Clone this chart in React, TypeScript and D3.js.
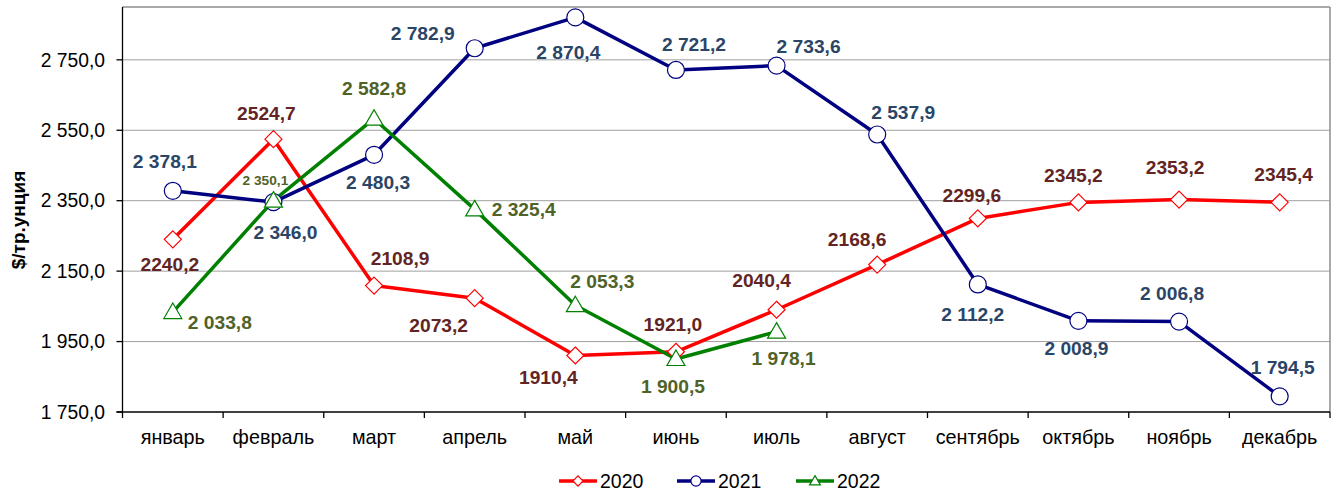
import React from 'react';
import * as d3 from 'd3';

const months = ['январь', 'февраль', 'март', 'апрель', 'май', 'июнь', 'июль', 'август', 'сентябрь', 'октябрь', 'ноябрь', 'декабрь'];
const values2020 = [2240.2, 2524.7, 2108.9, 2073.2, 1910.4, 1921.0, 2040.4, 2168.6, 2299.6, 2345.2, 2353.2, 2345.4];
const values2021 = [2378.1, 2346.0, 2480.3, 2782.9, 2870.4, 2721.2, 2733.6, 2537.9, 2112.2, 2008.9, 2006.8, 1794.5];
const values2022 = [2033.8, 2350.1, 2582.8, 2325.4, 2053.3, 1900.5, 1978.1];
const yTicks = [1750, 1950, 2150, 2350, 2550, 2750];

// label offsets from the point (dx, dy) – chart-specific placement
const off2020: [number, number][] = [[-3, 25], [-7, -26], [26, -27], [-36, 27], [-27, 22], [-3, -27], [-15, -29], [-20, -25], [-6, -23], [-5, -27], [-4, -32], [4, -28]];
const off2021: [number, number][] = [[-8, -30], [12, 30], [4, 27], [-52, -15], [-7, 35], [18, -26], [32, -19], [26, -22], [-5, 30], [-2, 27], [-7, -28], [3, -29]];
const off2022: [number, number][] = [[47, 10], [-8, -20], [0, -30], [49, 0], [27, -24], [-3, 27], [7, 27]];

const margin = { top: 7, right: 13, bottom: 81, left: 122.5 };
const W = 1343;
const H = 493;

const fmtRu = (v: number) => {
  const [i, f] = v.toFixed(1).split('.');
  return i.replace(/\B(?=(\d{3})+(?!\d))/g, ' ') + ',' + f;
};
const fmtPlain = (v: number) => v.toFixed(1).replace('.', ',');

const x = d3.scaleBand<string>().domain(months).range([margin.left, W - margin.right]);
const y = d3.scaleLinear().domain([1750, 2900]).range([H - margin.bottom, margin.top]);
const cx = (i: number) => (x(months[i]) || 0) + x.bandwidth() / 2;

const line = d3.line<number>().x((_, i) => cx(i)).y(d => y(d));

const font = 'Arial, "Liberation Sans", sans-serif';

type Kind = 'diamond' | 'circle' | 'triangle';
const Marker = ({ kind, px, py, color, s = 1 }: { kind: Kind; px: number; py: number; color: string; s?: number }) => {
  if (kind === 'circle') return <circle cx={px} cy={py} r={8.5 * s} fill="#fff" stroke={color} strokeWidth={1.2} />;
  if (kind === 'diamond') {
    const r = 8.5 * s;
    return <path d={`M${px},${py - r}L${px + r},${py}L${px},${py + r}L${px - r},${py}Z`} fill="#fff" stroke={color} strokeWidth={1.2} />;
  }
  const r = 9 * s;
  return <path d={`M${px},${py - r}L${px + r},${py + r * 0.72}L${px - r},${py + r * 0.72}Z`} fill="#fff" stroke={color} strokeWidth={1.2} />;
};

const series = [
  { name: '2020', values: values2020, line: '#ff0000', label: '#632523', kind: 'diamond' as Kind, offs: off2020, fmt: fmtPlain },
  { name: '2021', values: values2021, line: '#000080', label: '#2b4566', kind: 'circle' as Kind, offs: off2021, fmt: fmtRu },
  { name: '2022', values: values2022, line: '#008000', label: '#4f6228', kind: 'triangle' as Kind, offs: off2022, fmt: fmtRu },
];

const legendX = [559, 677, 796];

export default function App() {
  const bottom = H - margin.bottom;
  const right = W - margin.right;
  return (
    <svg width={W} height={H} style={{ position: 'absolute', left: 0, top: 0, fontFamily: font }}>
      <rect width={W} height={H} fill="#fff" />
      {/* grid */}
      {yTicks.filter(t => t > 1750).map(t => (
        <line key={t} x1={margin.left} x2={right} y1={y(t)} y2={y(t)} stroke="#a0a0a0" strokeWidth={1} />
      ))}
      {/* frame */}
      <line x1={margin.left} x2={right} y1={margin.top} y2={margin.top} stroke="#8c8c8c" strokeWidth={1.5} />
      <line x1={right} x2={right} y1={margin.top} y2={bottom} stroke="#8c8c8c" strokeWidth={1.5} />
      <line x1={margin.left} x2={margin.left} y1={margin.top} y2={bottom + 6} stroke="#000" strokeWidth={1.3} />
      <line x1={margin.left - 6} x2={right} y1={bottom} y2={bottom} stroke="#000" strokeWidth={1.3} />
      {/* y ticks */}
      {yTicks.map(t => (
        <g key={t}>
          <line x1={margin.left - 6} x2={margin.left} y1={y(t)} y2={y(t)} stroke="#000" strokeWidth={1.3} />
          <text x={105} y={y(t)} dy="0.35em" textAnchor="end" fontSize={19.3}>{fmtRu(t)}</text>
        </g>
      ))}
      {/* x ticks */}
      {months.map((m, i) => (
        <g key={m}>
          <line x1={(x(m) || 0) + x.bandwidth()} x2={(x(m) || 0) + x.bandwidth()} y1={bottom} y2={bottom + 6} stroke="#000" strokeWidth={1.3} />
          <text x={cx(i)} y={444} textAnchor="middle" fontSize={19.8}>{m}</text>
        </g>
      ))}
      <text transform={`translate(25,220) rotate(-90)`} textAnchor="middle" fontSize={19} fontWeight="bold">$/тр.унция</text>
      {/* lines */}
      {series.map(s => (
        <path key={s.name} d={line(s.values) || ''} fill="none" stroke={s.line} strokeWidth={3.5} strokeLinejoin="round" />
      ))}
      {series.map(s => s.values.map((v, i) => (
        <Marker key={s.name + i} kind={s.kind} px={cx(i)} py={y(v)} color={s.line} />
      )))}
      {/* labels */}
      {series.map(s => s.values.map((v, i) => {
        const small = s.name === '2022' && i === 1;
        return (
          <text key={'l' + s.name + i} x={cx(i) + s.offs[i][0]} y={y(v) + s.offs[i][1]} dy="0.35em" textAnchor="middle"
            fontSize={small ? 13.7 : 19.2} fontWeight="bold" fill={s.label}>{s.fmt(v)}</text>
        );
      }))}
      {/* legend */}
      {series.map((s, k) => (
        <g key={'lg' + s.name}>
          <line x1={legendX[k]} x2={legendX[k] + 38} y1={481} y2={481} stroke={s.line} strokeWidth={3.5} />
          <Marker kind={s.kind} px={legendX[k] + 19} py={481} color={s.line} s={0.6} />
          <text x={legendX[k] + 41} y={481} dy="0.35em" fontSize={19.5}>{s.name}</text>
        </g>
      ))}
    </svg>
  );
}
